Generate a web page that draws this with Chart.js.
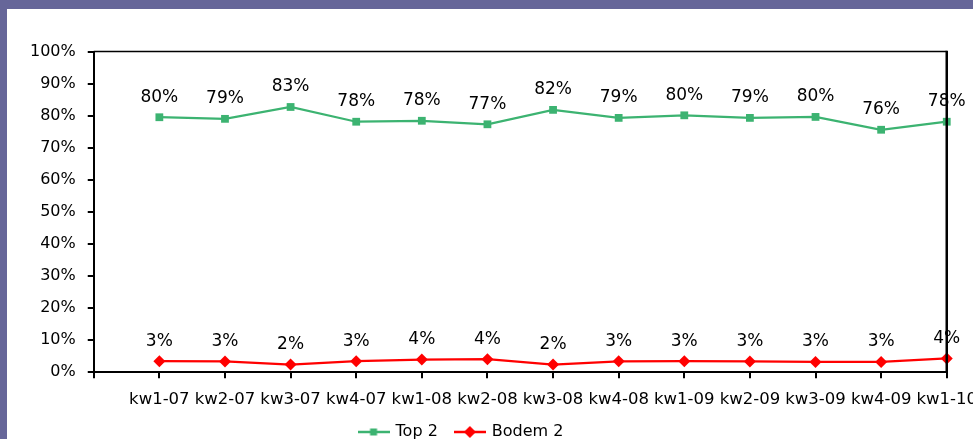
<!DOCTYPE html>
<html><head><meta charset="utf-8">
<script src="https://cdn.jsdelivr.net/npm/chart.js@4.4.1/dist/chart.umd.min.js"></script>
<style>
html,body{margin:0;padding:0;width:973px;height:439px;overflow:hidden;background:#666699;}
#panel{position:absolute;left:7px;top:9px;width:990px;height:460px;background:#fff;}
#wrap{position:absolute;left:7px;top:9px;width:982px;height:467px;}
</style></head><body>
<div id="panel"></div>
<div id="wrap"><canvas id="c"></canvas></div>
<script>
const categories = ['kw1-07','kw2-07','kw3-07','kw4-07','kw1-08','kw2-08','kw3-08','kw4-08','kw1-09','kw2-09','kw3-09','kw4-09','kw1-10'];
const top2 = [79.5, 79.0, 82.7, 78.1, 78.4, 77.3, 81.8, 79.3, 80.1, 79.3, 79.6, 75.6, 78.1];
const bodem2 = [3.45, 3.35, 2.4, 3.45, 3.95, 4.05, 2.4, 3.4, 3.45, 3.35, 3.2, 3.2, 4.3];
const yTicks = [0,10,20,30,40,50,60,70,80,90,100];

const GREEN = '#3cb371', RED = '#ff0000';
Chart.defaults.font.family = "'DejaVu Sans', Verdana, sans-serif";
Chart.defaults.color = '#000';

function icon(color, shape){
  const c = document.createElement('canvas'); c.width = 32; c.height = 14;
  const g = c.getContext('2d');
  g.strokeStyle = color; g.lineWidth = 2.5;
  g.beginPath(); g.moveTo(0,7); g.lineTo(32,7); g.stroke();
  g.fillStyle = color; g.beginPath();
  if (shape === 'rect') { g.rect(12.5,3.5,7,7); }
  else { g.moveTo(16,1); g.lineTo(22,7); g.lineTo(16,13); g.lineTo(10,7); g.closePath(); }
  g.fill();
  return c;
}
const icons = [icon(GREEN,'rect'), icon(RED,'diamond')];

const dataLabels = {
  id: 'dataLabels',
  afterDatasetsDraw(chart){
    const ctx = chart.ctx;
    ctx.save();
    ctx.font = "17px 'DejaVu Sans'";
    ctx.fillStyle = '#000';
    ctx.textAlign = 'center';
    ctx.textBaseline = 'middle';
    chart.data.datasets.forEach((ds, i) => {
      chart.getDatasetMeta(i).data.forEach((pt, j) => {
        const v = ds.data[j];
        if (v === null || v === undefined) return;
        ctx.fillText(Math.round(v) + '%', pt.x, pt.y - 20);
      });
    });
    ctx.restore();
  }
};
const frame = {
  id: 'frame',
  afterDraw(chart){
    const {ctx, chartArea: a} = chart;
    ctx.save();
    ctx.strokeStyle = '#000';
    ctx.lineWidth = 1.5;
    ctx.beginPath(); ctx.moveTo(a.left, a.top); ctx.lineTo(a.right, a.top); ctx.stroke();
    ctx.lineWidth = 2.5;
    ctx.beginPath(); ctx.moveTo(a.right, a.top - 0.75); ctx.lineTo(a.right, a.bottom); ctx.stroke();
    ctx.restore();
  }
};
const legendShift = {
  id: 'legendShift',
  afterLayout(chart){
    const l = chart.legend; if (!l) return;
    const dx = -25, dy = -16;
    l.left += dx; l.right += dx; l.top += dy; l.bottom += dy;
  }
};

new Chart(document.getElementById('c'), {
  type: 'line',
  data: {
    labels: [''].concat(categories),
    datasets: [
      { label: 'Top 2', data: [null].concat(top2), borderColor: GREEN, backgroundColor: GREEN,
        borderWidth: 2.25, pointStyle: 'rect', pointRadius: 5.5, pointBorderWidth: 0, tension: 0, clip: false },
      { label: 'Bodem 2', data: [null].concat(bodem2), borderColor: RED, backgroundColor: RED,
        borderWidth: 2.25, pointStyle: 'rectRot', pointRadius: 6, pointBorderWidth: 0, tension: 0, clip: false }
    ]
  },
  options: {
    responsive: true, maintainAspectRatio: false, animation: false,
    layout: { padding: { left: 11, top: 42.5, right: 34, bottom: 10 } },
    scales: {
      x: {
        offset: false,
        grid: { drawOnChartArea: false, drawTicks: true, tickLength: 6, color: '#000', lineWidth: 2 },
        border: { color: '#000', width: 2 },
        ticks: { autoSkip: false, maxRotation: 0, minRotation: 0, padding: 12, font: { size: 16.5 }, color: '#000' }
      },
      y: {
        min: 0, max: 100,
        afterBuildTicks(s){ s.ticks = yTicks.map(v => ({ value: v })); },
        grid: { drawOnChartArea: false, drawTicks: true, tickLength: 6, color: '#000', lineWidth: 2 },
        border: { color: '#000', width: 2 },
        ticks: { padding: 12, font: { size: 16 }, color: '#000', callback: v => v + '%' }
      }
    },
    plugins: {
      tooltip: { enabled: false },
      legend: {
        position: 'bottom',
        labels: {
          usePointStyle: true, pointStyleWidth: 28, padding: 18, font: { size: 16 }, color: '#000',
          generateLabels(chart){
            return Chart.defaults.plugins.legend.labels.generateLabels(chart).map((it, i) => Object.assign(it, { pointStyle: icons[i] }));
          }
        }
      }
    }
  },
  plugins: [dataLabels, frame, legendShift]
});
</script>
</body></html>
